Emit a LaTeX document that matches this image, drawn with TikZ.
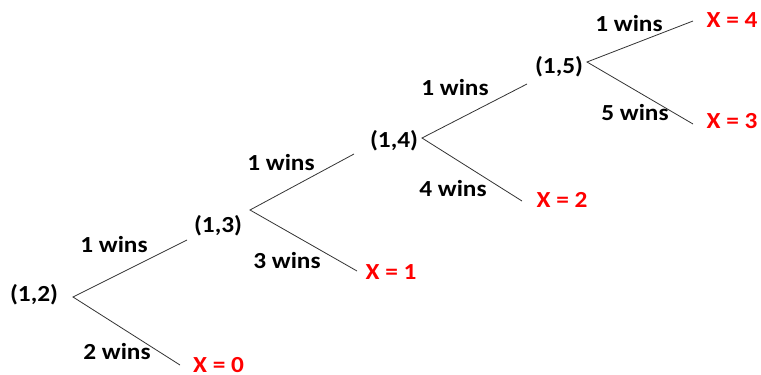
\documentclass[tikz,border=0pt]{standalone}
\usepackage{fontspec}
\setmainfont[FakeStretch=1.1]{Carlito}
\begin{document}
\begin{tikzpicture}[x=1pt,y=-1pt,
  lbl/.style={font=\fontsize{23}{27}\selectfont\bfseries, inner sep=0pt, text=black},
  res/.style={font=\fontsize{23}{27}\selectfont\bfseries, inner sep=0pt, text=red},
  edge/.style={draw=black!80, line width=0.8pt}]
\useasboundingbox (0,0) rectangle (761,375);
% state nodes
\node[lbl] (n12) at (34,295) {(1,2)};
\node[lbl] (n13) at (218,226) {(1,3)};
\node[lbl] (n14) at (394,141) {(1,4)};
\node[lbl] (n15) at (559,67) {(1,5)};
% results
\node[res] (x0) at (218.5,365) {X = 0};
\node[res] (x1) at (391,272) {X = 1};
\node[res] (x2) at (562,200) {X = 2};
\node[res] (x3) at (732,121) {X = 3};
\node[res] (x4) at (732,20) {X = 4};
% connector end points
\coordinate (o12) at (73,297);
\coordinate (o13) at (250,210);
\coordinate (o14) at (422,138);
\coordinate (o15) at (587,62);
\coordinate (i13) at (187,240);
\coordinate (i14) at (354,154);
\coordinate (i15) at (527,84);
\coordinate (i4) at (693,21);
\coordinate (i3) at (693,124);
\coordinate (i2) at (522,201);
\coordinate (i1) at (357,271);
\coordinate (i0) at (180,365);
% connectors
\draw[edge] (i13) -- (o12) -- (i0);
\draw[edge] (i14) -- (o13) -- (i1);
\draw[edge] (i15) -- (o14) -- (i2);
\draw[edge] (i4) -- (o15) -- (i3);
% edge labels
\node[lbl] (w1) at (114,245) {1 wins};
\node[lbl] (w2) at (117,352) {2 wins};
\node[lbl] (w3) at (281,163) {1 wins};
\node[lbl] (w4) at (287,261) {3 wins};
\node[lbl] (w5) at (455,88) {1 wins};
\node[lbl] (w6) at (453,189) {4 wins};
\node[lbl] (w7) at (629,24) {1 wins};
\node[lbl] (w8) at (635,113) {5 wins};
\end{tikzpicture}
\end{document}
